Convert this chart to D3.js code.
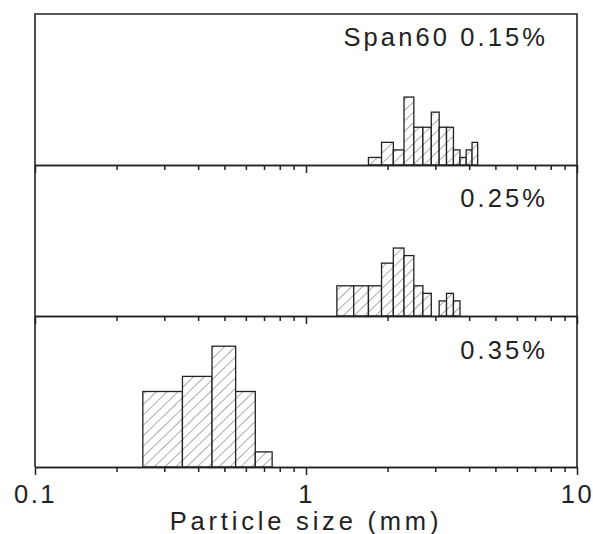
<!DOCTYPE html>
<html>
<head>
<meta charset="utf-8">
<script src="https://cdn.jsdelivr.net/npm/d3@7"></script>
<style>
  body { margin: 0; background: #fff; }
  svg { display: block; font-family: "Liberation Sans", Arial, sans-serif; }
</style>
</head>
<body>
<div id="chart"></div>
<script>
// histogram data, one panel per Span60 concentration (bin edges in mm, counts)
const panelLabels = ['Span60 0.15%', '0.25%', '0.35%'];

const edges015 = [1.7, 1.9, 2.1, 2.3, 2.5, 2.7, 2.9, 3.1, 3.3, 3.5, 3.7, 3.9, 4.1, 4.3];
const counts015 = [1, 3, 2, 9, 5, 5, 7, 5, 5, 2, 1, 2, 3];

const edges025 = [1.3, 1.5, 1.7, 1.9, 2.1, 2.3, 2.5, 2.7, 2.9, 3.1, 3.3, 3.5, 3.7];
const counts025 = [4, 4, 4, 7, 9, 8, 4, 3, 0, 2, 3, 2];

const edges035 = [0.25, 0.35, 0.45, 0.55, 0.65, 0.75];
const counts035 = [10, 12, 16, 10, 2];

const majorTicks = [0.1, 1, 10];
const minorTicks = [0.2, 0.3, 0.4, 0.5, 0.6, 0.7, 0.8, 0.9, 2, 3, 4, 5, 6, 7, 8, 9];
const xTitle = 'Particle size (mm)';

// layout
const width = 593, height = 534;
const plotLeft = 35, plotRight = 577, plotTop = 14, panelH = 151;
const labelOffsets = [32, 42, 43];
const ink = '#222';

const svg = d3.select('#chart').append('svg')
    .attr('width', width)
    .attr('height', height);

// hatch pattern for the bars
const defs = svg.append('defs');
const hatch = defs.append('pattern')
    .attr('id', 'hatch')
    .attr('patternUnits', 'userSpaceOnUse')
    .attr('width', 7.5)
    .attr('height', 10)
    .attr('patternTransform', 'rotate(46)');
hatch.append('rect')
    .attr('width', 7.5).attr('height', 10)
    .attr('fill', '#fff');
hatch.append('line')
    .attr('x1', 0).attr('y1', 0)
    .attr('x2', 0).attr('y2', 10)
    .attr('stroke', '#444')
    .attr('stroke-width', 0.9);

const x = d3.scaleLog()
    .domain([0.1, 10])
    .range([plotLeft, plotRight]);

const panels = [
    { edges: edges015, counts: counts015 },
    { edges: edges025, counts: counts025 },
    { edges: edges035, counts: counts035 }
];

panels.forEach((p, i) => {
    const y0 = plotTop + i * panelH;
    const y1 = y0 + panelH;
    const y = d3.scaleLinear().domain([0, 20]).range([y1, y0]);

    const bins = p.counts.map((c, j) => ({ x0: p.edges[j], x1: p.edges[j + 1], n: c }));

    const g = svg.append('g');

    g.selectAll('rect.bar')
        .data(bins.filter(b => b.n > 0))
        .join('rect')
        .attr('class', 'bar')
        .attr('x', d => x(d.x0))
        .attr('width', d => x(d.x1) - x(d.x0))
        .attr('y', d => y(d.n))
        .attr('height', d => y(0) - y(d.n))
        .attr('fill', 'url(#hatch)')
        .attr('stroke', ink)
        .attr('stroke-width', 1.3);

    // panel label
    g.append('text')
        .attr('x', 548)
        .attr('y', y0 + labelOffsets[i])
        .attr('text-anchor', 'end')
        .attr('font-size', 25.5)
        .attr('letter-spacing', 3.1)
        .attr('fill', ink)
        .text(panelLabels[i]);

    // bottom axis of the panel: minor and major ticks
    const isLast = i === panels.length - 1;
    const minorAxis = d3.axisBottom(x)
        .tickValues(minorTicks)
        .tickSize(5)
        .tickSizeOuter(0)
        .tickFormat('');
    const majorAxis = d3.axisBottom(x)
        .tickValues(majorTicks)
        .tickSize(8)
        .tickSizeOuter(0)
        .tickPadding(10)
        .tickFormat(isLast ? d3.format('') : '');

    [minorAxis, majorAxis].forEach(ax => {
        const a = g.append('g')
            .attr('transform', `translate(0,${y1})`)
            .call(ax);
        a.select('.domain').attr('stroke', ink).attr('stroke-width', 1.6);
        a.selectAll('.tick line').attr('stroke', ink).attr('stroke-width', 1.5);
        a.selectAll('.tick text')
            .attr('font-size', 25.5)
            .attr('letter-spacing', 2.5)
            .attr('fill', ink)
            .attr('font-family', '"Liberation Sans", Arial, sans-serif');
    });
});

// frame: top, left and right borders
const plotBottom = plotTop + panels.length * panelH;
svg.append('path')
    .attr('d', `M${plotLeft},${plotBottom}V${plotTop}H${plotRight}V${plotBottom}`)
    .attr('fill', 'none')
    .attr('stroke', ink)
    .attr('stroke-width', 1.6);

// x axis title
svg.append('text')
    .attr('x', x(1))
    .attr('y', 530)
    .attr('text-anchor', 'middle')
    .attr('font-size', 25.5)
    .attr('letter-spacing', 3.8)
    .attr('fill', ink)
    .text(xTitle);
</script>
</body>
</html>
